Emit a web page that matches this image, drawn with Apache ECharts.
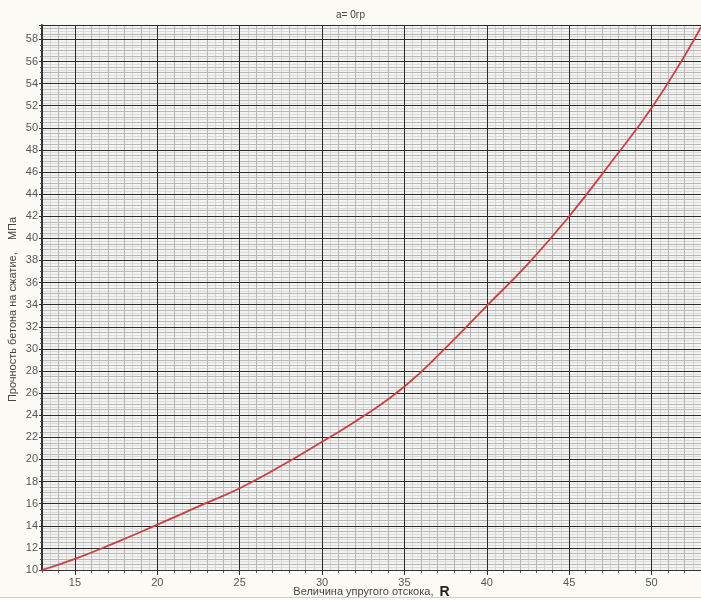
<!DOCTYPE html>
<html>
<head>
<meta charset="utf-8">
<script src="https://cdn.jsdelivr.net/npm/echarts@6/dist/echarts.min.js"></script>
<style>
html,body{margin:0;padding:0;background:#fcfbf5;}
#chart{width:701px;height:600px;}
</style>
</head>
<body>
<div id="chart"></div>
<script>
// Data
const titleText = 'a= 0гр';
const xAxisTitle = 'Величина упругого отскока,';
const xAxisSymbol = 'R';
const yAxisTitle = 'Прочность бетона на сжатие,    МПа';
const rValues = [13, 15, 17.5, 20, 22.5, 25, 27.5, 30, 32.5, 35, 37.5, 40, 42.5, 45, 47.5, 50, 52, 53];
const strength = [10.0, 11.0, 12.5, 14.1, 15.75, 17.4, 19.4, 21.6, 23.9, 26.6, 30.1, 33.9, 37.7, 42.0, 46.8, 51.8, 56.5, 59.1];
const xTickValues = [15, 20, 25, 30, 35, 40, 45, 50];
const xMin = 13, xMax = 53;
const yMin = 10, yMax = 59.3, yStep = 2;

const chart = echarts.init(document.getElementById('chart'));
const font = 'Liberation Sans, Arial, sans-serif';
const points = rValues.map((r, i) => [r, strength[i]]);

chart.setOption({
  backgroundColor: '#fcfbf5',
  animation: false,
  title: {
    text: titleText, left: 'center', top: 5,
    textStyle: {fontFamily: font, fontSize: 10, fontWeight: 'normal', color: '#444'}
  },
  graphic: [{
    type: 'rect', left: 0, bottom: 2, shape: {width: 701, height: 1},
    style: {fill: '#cfcfcf'}, silent: true
  }],
  grid: [{left: 42, right: 0, top: 25, bottom: 30, outerBoundsMode: 'none', containLabel: false,
    show: true, backgroundColor: '#f3f3ef', borderWidth: 0}],
  xAxis: [{
    type: 'value', min: xMin, max: xMax,
    name: xAxisTitle + '  {b|' + xAxisSymbol + '}',
    nameLocation: 'middle', nameGap: 15, nameMoveOverlap: false,
    nameTextStyle: {fontFamily: font, fontSize: 11, color: '#444',
      rich: {b: {fontFamily: font, fontSize: 14, fontWeight: 'bold', color: '#222'}}},
    axisLine: {show: true, lineStyle: {color: '#333', width: 1}},
    axisTick: {show: true, length: 5, customValues: xTickValues, lineStyle: {color: '#333'}},
    axisLabel: {fontFamily: font, fontSize: 11, color: '#555', margin: 7, customValues: xTickValues},
    splitLine: {show: true, lineStyle: {color: '#2a2a2a', width: 1}},
    z: 5
  }, {
    type: 'value', min: xMin, max: xMax, interval: 1, position: 'bottom',
    axisLine: {show: false},
    axisTick: {show: true, length: 3, lineStyle: {color: '#555'}},
    axisLabel: {show: false},
    splitLine: {show: true, lineStyle: {color: '#b8b8b8', width: 1}},
    minorTick: {show: false, splitNumber: 2},
    minorSplitLine: {show: true, lineStyle: {color: '#d6d6d6', width: 1}},
    z: 1
  }],
  yAxis: [{
    type: 'value', min: yMin, max: yMax, interval: yStep,
    name: yAxisTitle, nameLocation: 'middle', nameGap: 24, nameRotate: 90, nameMoveOverlap: false,
    nameTextStyle: {fontFamily: font, fontSize: 11, color: '#444', padding: [0, 24, 0, 0]},
    axisLine: {show: true, lineStyle: {color: '#333', width: 2}},
    axisTick: {show: true, length: 3, lineStyle: {color: '#333'}},
    minorTick: {show: true, splitNumber: 4, length: 2, lineStyle: {color: '#555'}},
    axisLabel: {fontFamily: font, fontSize: 11, color: '#555', margin: 4, showMaxLabel: false},
    splitLine: {show: true, lineStyle: {color: '#2a2a2a', width: 1}},
    minorSplitLine: {show: true, lineStyle: {color: '#b8b8b8', width: 1}},
    z: 5
  }, {
    type: 'value', min: yMin, max: yMax, interval: 0.25, position: 'left',
    axisLine: {show: false}, axisTick: {show: false}, axisLabel: {show: false},
    splitLine: {show: true, lineStyle: {color: '#dcdcdc', width: 1}}, z: 1
  }],
  series: [{
    type: 'line', data: points, smooth: true, showSymbol: false,
    xAxisIndex: 0, yAxisIndex: 0,
    lineStyle: {color: '#c8404a', width: 1.8}, z: 10
  }]
});
</script>
</body>
</html>
